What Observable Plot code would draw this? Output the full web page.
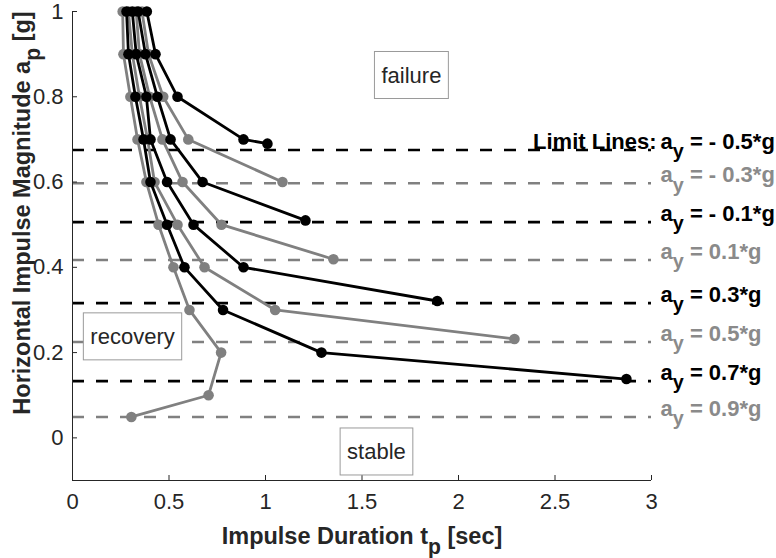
<!DOCTYPE html>
<html><head><meta charset="utf-8">
<script src="https://cdn.jsdelivr.net/npm/d3@7"></script>
<script src="https://cdn.jsdelivr.net/npm/@observablehq/plot@0.6"></script>
<style>
html,body{margin:0;padding:0;background:#fff;}
#chart svg{display:block;}
</style>
</head><body><div id="chart"></div>
<script>
// ---- data ----
const xTicks = [0, 0.5, 1, 1.5, 2, 2.5, 3];
const yTicks = [0, 0.2, 0.4, 0.6, 0.8, 1];

// limit lines: lateral acceleration a_y and the impulse magnitude where each limit lies
const limitAy = [-0.5, -0.3, -0.1, 0.1, 0.3, 0.5, 0.7, 0.9];
const limitAp = [0.675, 0.597, 0.506, 0.417, 0.316, 0.225, 0.133, 0.049];
const limitLabels = ["a_y = - 0.5*g", "a_y = - 0.3*g", "a_y = - 0.1*g", "a_y = 0.1*g",
                     "a_y = 0.3*g", "a_y = 0.5*g", "a_y = 0.7*g", "a_y = 0.9*g"];

// boundary curves (impulse duration tp [s] vs impulse magnitude ap [g]), one per limit
const ap_m05 = [1.0, 0.9, 0.8, 0.7, 0.69];
const tp_m05 = [0.385, 0.43, 0.544, 0.886, 1.01];
const ap_m03 = [1.0, 0.9, 0.8, 0.7, 0.6];
const tp_m03 = [0.36, 0.394, 0.47, 0.60, 1.088];
const ap_m01 = [1.0, 0.9, 0.8, 0.7, 0.6, 0.51];
const tp_m01 = [0.34, 0.378, 0.44, 0.508, 0.674, 1.207];
const ap_p01 = [1.0, 0.9, 0.8, 0.7, 0.6, 0.5, 0.419];
const tp_p01 = [0.33, 0.347, 0.40, 0.466, 0.57, 0.772, 1.352];
const ap_p03 = [1.0, 0.9, 0.8, 0.7, 0.6, 0.5, 0.4, 0.321];
const tp_p03 = [0.31, 0.33, 0.383, 0.404, 0.49, 0.627, 0.886, 1.89];
const ap_p05 = [1.0, 0.9, 0.8, 0.7, 0.6, 0.5, 0.4, 0.3, 0.232];
const tp_p05 = [0.29, 0.31, 0.347, 0.389, 0.425, 0.544, 0.684, 1.05, 2.29];
const ap_p07 = [1.0, 0.9, 0.8, 0.7, 0.6, 0.5, 0.4, 0.3, 0.2, 0.138];
const tp_p07 = [0.28, 0.29, 0.326, 0.368, 0.404, 0.49, 0.58, 0.78, 1.29, 2.87];
const ap_p09 = [1.0, 0.9, 0.8, 0.7, 0.6, 0.5, 0.4, 0.3, 0.2, 0.1, 0.049];
const tp_p09 = [0.26, 0.264, 0.30, 0.337, 0.383, 0.446, 0.523, 0.606, 0.77, 0.705, 0.305];

const curveAp = [ap_m05, ap_m03, ap_m01, ap_p01, ap_p03, ap_p05, ap_p07, ap_p09];
const curveTp = [tp_m05, tp_m03, tp_m01, tp_p01, tp_p03, tp_p05, tp_p07, tp_p09];

// region annotations
const noteText = ["failure", "recovery", "stable"];
const noteTp = [1.756, 0.311, 1.575];
const noteAp = [0.85, 0.237, -0.033];

// ---- styling ----
const BLACK = "#000000", GRAY = "#808080", LABELGRAY = "#8a8a8a", INK = "#262626";
const FONT = "'Liberation Sans', Arial, Helvetica, sans-serif";

// ---- tables ----
const curveRows = [];
curveAp.forEach((aps, i) => aps.forEach((ap, j) => curveRows.push({curve: i, ay: limitAy[i], ap, tp: curveTp[i][j]})));
const blackCurves = curveRows.filter(d => d.curve % 2 === 0);
const grayCurves = curveRows.filter(d => d.curve % 2 === 1);

const limitRows = limitAy.map((ay, i) => ({i, ay, ap: limitAp[i], label: limitLabels[i]}));
const blackLimits = limitRows.filter(d => d.i % 2 === 0);
const grayLimits = limitRows.filter(d => d.i % 2 === 1);
const noteRows = noteText.map((t, i) => ({text: t, tp: noteTp[i], ap: noteAp[i]}));

const dash = "12,12";
const LW = 2.8, R = 5.3;
const plot = Plot.plot({
  width: 776, height: 558,
  marginLeft: 72, marginRight: 125, marginTop: 11, marginBottom: 78,
  x: {domain: [0, 3]},
  y: {domain: [-0.1, 1]},
  style: {fontFamily: FONT, color: INK, background: "white", overflow: "visible"},
  marks: [
    Plot.ruleY(grayLimits, {y: "ap", stroke: GRAY, strokeWidth: 2.6, strokeDasharray: dash}),
    Plot.ruleY(blackLimits, {y: "ap", stroke: BLACK, strokeWidth: 2.6, strokeDasharray: dash}),
    Plot.line(grayCurves, {x: "tp", y: "ap", z: "curve", stroke: GRAY, strokeWidth: LW}),
    Plot.dot(grayCurves, {x: "tp", y: "ap", r: R, fill: GRAY}),
    Plot.line(blackCurves, {x: "tp", y: "ap", z: "curve", stroke: BLACK, strokeWidth: LW}),
    Plot.dot(blackCurves, {x: "tp", y: "ap", r: R, fill: BLACK}),
    Plot.ruleX([0], {stroke: INK, strokeWidth: 1}),
    Plot.ruleY([-0.1], {stroke: INK, strokeWidth: 1}),
    Plot.axisX({ticks: xTicks, tickSize: -5, tickPadding: 18, fontSize: 22, color: INK, label: null,
                tickFormat: d => String(d)}),
    Plot.axisY({ticks: yTicks, tickSize: -5, tickPadding: 14, fontSize: 22, color: INK, label: null,
                tickFormat: d => String(d)}),
    Plot.text(noteRows, {x: "tp", y: "ap", text: "text", fontSize: 22, fill: INK, className: "note"}),
    Plot.text(blackLimits, {y: "ap", frameAnchor: "right", text: "label", textAnchor: "start", dx: 9, dy: -8,
                            fontSize: 22, fontWeight: "bold", fill: BLACK}),
    Plot.text(grayLimits, {y: "ap", frameAnchor: "right", text: "label", textAnchor: "start", dx: 9, dy: -8,
                           fontSize: 22, fontWeight: "bold", fill: LABELGRAY}),
    Plot.text([limitRows[0]], {y: "ap", frameAnchor: "right", text: () => "Limit Lines:", textAnchor: "end", dx: 5, dy: -8,
                               fontSize: 22, fontWeight: "bold", fill: BLACK}),
    Plot.text(["Impulse Duration t_p [sec]"], {frameAnchor: "bottom", textAnchor: "middle", lineAnchor: "middle",
                                              dy: 56, fontSize: 23.5, fontWeight: "bold", fill: INK}),
    Plot.text(["Horizontal Impulse Magnitude a_p [g]"], {frameAnchor: "left", textAnchor: "middle", lineAnchor: "middle",
                                                       rotate: -90, dx: -50, dy: -33,
                                                       fontSize: 23.5, fontWeight: "bold", fill: INK})
  ]
});
document.getElementById("chart").appendChild(plot);

// ---- subscripts (a_y, t_p, a_p) ----
const NS = "http://www.w3.org/2000/svg";
plot.querySelectorAll("text").forEach(t => {
  const s = t.textContent;
  const m = s.match(/^(.*?)_(.)(.*)$/);
  if (!m || t.children.length) return;
  const fs = parseFloat(getComputedStyle(t).fontSize) || 22;
  const shift = fs * 0.42;
  t.textContent = "";
  const a = document.createElementNS(NS, "tspan"); a.textContent = m[1];
  const b = document.createElementNS(NS, "tspan"); b.textContent = m[2];
  b.setAttribute("dy", shift); b.setAttribute("font-size", fs * 0.9);
  const c = document.createElementNS(NS, "tspan"); c.textContent = m[3];
  c.setAttribute("dy", -shift);
  t.append(a, b, c);
});

// ---- boxes around region annotations ----
plot.querySelectorAll(".note text").forEach(t => {
  const bb = t.getBBox();
  const r = document.createElementNS(NS, "rect");
  const padX = 7, padY = 11;
  r.setAttribute("x", bb.x - padX);
  r.setAttribute("y", bb.y - padY);
  r.setAttribute("width", bb.width + 2 * padX);
  r.setAttribute("height", bb.height + 2 * padY);
  if (t.getAttribute("transform")) r.setAttribute("transform", t.getAttribute("transform"));
  r.setAttribute("fill", "white");
  r.setAttribute("stroke", "#9a9a9a");
  r.setAttribute("stroke-width", 1);
  t.parentNode.insertBefore(r, t);
});
</script>
</body></html>
